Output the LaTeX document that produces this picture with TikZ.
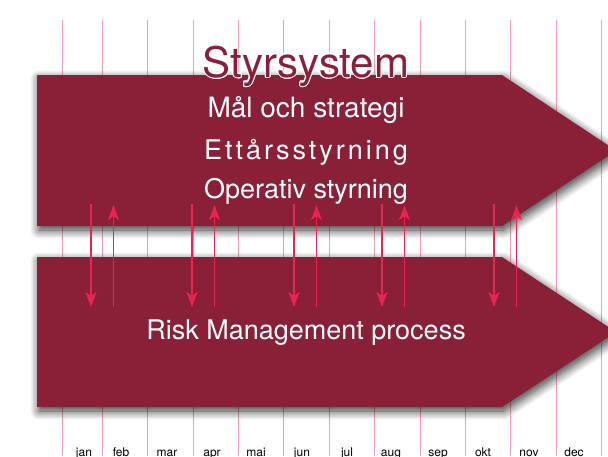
\documentclass[tikz,border=0pt]{standalone}
\usepackage{fontspec}
\setmainfont{TeX Gyre Heros}
\usepackage{contour}
\usetikzlibrary{arrows.meta}
\usetikzlibrary{shadows.blur}
\definecolor{vinrod}{RGB}{138,31,56}
\definecolor{pilrod}{RGB}{232,36,80}
\definecolor{linrosa}{RGB}{242,158,176}
\contourlength{1.1pt}

\begin{document}
\begin{tikzpicture}[x=1pt, y=-1pt,
    manadlinje/.style={draw=linrosa, line width=0.9pt},
    manad/.style={anchor=base, font=\fontsize{12}{14}\selectfont},
    block/.style={fill=vinrod, blur shadow={shadow xshift=2pt, shadow yshift=-4pt, shadow blur radius=9pt, shadow blur steps=12, shadow opacity=80}},
    rubrik/.style={anchor=base, text=white, font=\fontsize{27}{30}\selectfont},
    pil/.style={draw=pilrod, line width=1.4pt, -{Stealth[length=15pt, width=11pt, inset=4pt]}}
  ]
  \useasboundingbox (0,0) rectangle (608,456);

  % month grid
  \foreach \x in {62,102,147,193,238,283,329,374,420,465,510,556,601} {
      \draw[manadlinje] (\x,20) -- (\x,456);
    }
  \foreach \m/\x in {jan/84,feb/121,mar/167,apr/212,mai/256,jun/302,jul/347,aug/391,sep/438,okt/483,nov/529,dec/574} {
      \node[manad] (m-\m) at (\x,456) {\m};
    }

  % the two blocks
  \path[block] (37,75) -- (502,75) -- (616,150.5) -- (502,226) -- (37,226) -- cycle;
  \path[block] (37,257) -- (502,257) -- (616,332) -- (502,407) -- (37,407) -- cycle;

  \node[anchor=base, text=vinrod, font=\fontsize{42}{46}\selectfont] (titel) at (306,77) {\contour{white}{Styrsystem}};
  \node[rubrik, font=\fontsize{28}{30}\selectfont] (mal) at (306,117) {Mål och strategi};
  \node[rubrik] (ett) at (306,159) {\addfontfeature{LetterSpace=11}Ettårsstyrning};
  \node[rubrik] (op) at (306,198) {Operativ styrning};
  \node[rubrik] (risk) at (306,339) {Risk Management process};

  % arrows between the blocks
  \foreach \n/\x in {1/91,2/192,3/294,4/382,5/494} {
      \coordinate (ned\n-a) at (\x,204);
      \coordinate (ned\n-b) at (\x,307);
      \coordinate (upp\n-a) at (\x+22.5,307);
      \coordinate (upp\n-b) at (\x+22.5,205);
      \draw[pil] (ned\n-a) -- (ned\n-b);
      \draw[pil] (upp\n-a) -- (upp\n-b);
    }

\end{tikzpicture}
\end{document}
